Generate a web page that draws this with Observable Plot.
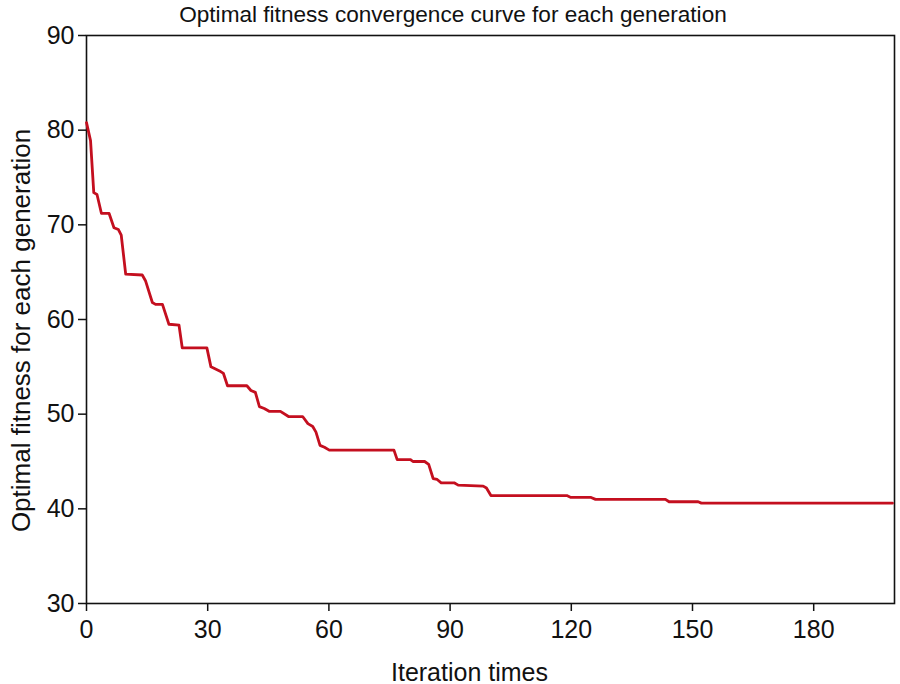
<!DOCTYPE html>
<html>
<head>
<meta charset="utf-8">
<script src="https://cdn.jsdelivr.net/npm/d3@7"></script>
<script src="https://cdn.jsdelivr.net/npm/@observablehq/plot@0.6"></script>
<style>
  body { margin: 0; background: #fff; font-family: "Liberation Sans", Arial, sans-serif; }
  #wrap { width: 900px; height: 684px; position: relative; overflow: hidden; }
  #title { position: relative; height: 14px; }
  #title div { position: absolute; left: 0; top: 0; width: 906px; text-align: center;
    font-size: 22.6px; line-height: 30px; color: #111; }
  #chart svg { background: transparent; overflow: visible; }
</style>
</head>
<body>
<div id="wrap">
  <div id="title"><div>Optimal fitness convergence curve for each generation</div></div>
  <div id="chart"></div>
</div>
<script>
const iterations = [0, 1, 1.8, 2.6, 3.7, 5.6, 6.8, 7.9, 8.6, 9.7, 13.8, 14.6, 16.3, 17.1, 18.8, 20.4, 22.9, 23.7, 29.8, 30.8, 33.2, 33.9, 34.9, 39.7, 40.7, 41.8, 42.8, 44, 45.2, 48, 50, 53.5, 54.8, 56, 56.8, 57.8, 58.9, 60.1, 76.1, 76.9, 80.2, 80.8, 83.7, 84.7, 85.8, 86.8, 87.8, 91, 92, 98.2, 99, 100.1, 118.9, 119.9, 124.9, 126, 143.3, 144.2, 151.4, 152.2, 199.5];
const fitness = [80.8, 78.9, 73.4, 73.2, 71.2, 71.2, 69.7, 69.5, 68.9, 64.8, 64.7, 64.1, 61.8, 61.6, 61.6, 59.5, 59.4, 57.0, 57.0, 55.0, 54.5, 54.3, 53.0, 53.0, 52.5, 52.3, 50.8, 50.6, 50.3, 50.3, 49.75, 49.75, 49.0, 48.7, 48.1, 46.7, 46.5, 46.2, 46.2, 45.2, 45.2, 45.0, 45.0, 44.7, 43.2, 43.1, 42.75, 42.75, 42.5, 42.4, 42.2, 41.4, 41.4, 41.2, 41.2, 41.0, 41.0, 40.75, 40.75, 40.6, 40.6];
const xTicks = [0, 30, 60, 90, 120, 150, 180];
const yTicks = [30, 40, 50, 60, 70, 80, 90];
const xLabel = "Iteration times";
const yLabel = "Optimal fitness for each generation";

const data = iterations.map((x, i) => ({x, y: fitness[i]}));

const chart = Plot.plot({
  width: 900,
  height: 670,
  marginTop: 21,
  marginBottom: 81,
  marginLeft: 86,
  marginRight: 6,
  style: {fontFamily: '"Liberation Sans", Arial, sans-serif', background: "transparent", color: "#111", overflow: "visible"},
  x: {domain: [0, 200]},
  y: {domain: [30, 90]},
  marks: [
    Plot.axisX({ticks: xTicks, tickSize: 8, tickPadding: 9, fontSize: 25, label: null, strokeWidth: 1.5, stroke: "#111"}),
    Plot.axisY({ticks: yTicks, tickSize: 8, tickPadding: 4, fontSize: 25, label: null, strokeWidth: 1.5, stroke: "#111"}),
    Plot.frame({stroke: "#111", strokeWidth: 1.6}),
    Plot.line(data, {x: "x", y: "y", stroke: "#c40f1f", strokeWidth: 2.8, strokeLinejoin: "round"}),
    Plot.text([xLabel], {frameAnchor: "bottom", text: d => d, dx: -21, dy: 77, fontSize: 25, fill: "#111"}),
    Plot.text([yLabel], {frameAnchor: "left", text: d => d, rotate: -90, textAnchor: "middle", lineAnchor: "middle", dx: -65, dy: 11, fontSize: 26, fill: "#111"})
  ]
});
document.getElementById("chart").appendChild(chart);
</script>
</body>
</html>
